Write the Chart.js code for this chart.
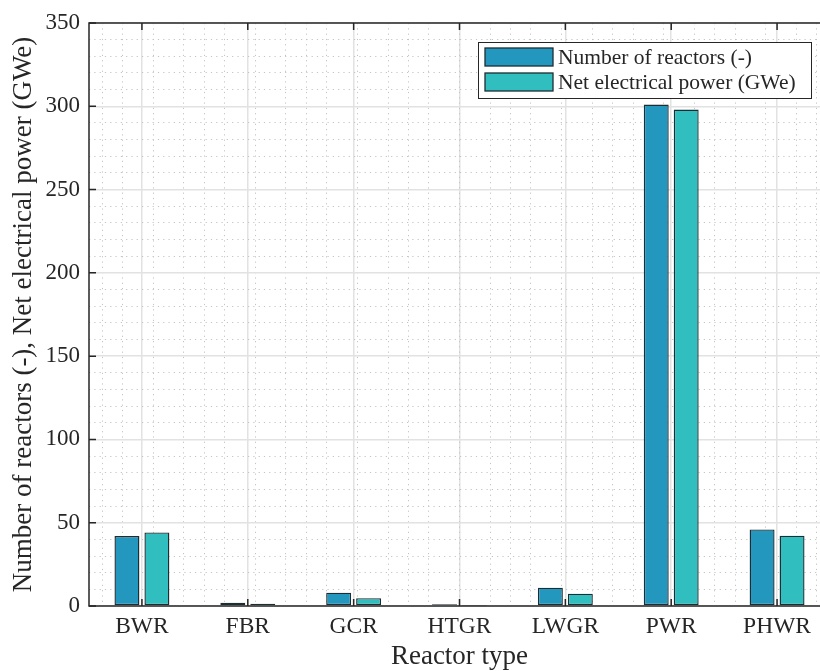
<!DOCTYPE html>
<html>
<head>
<meta charset="utf-8">
<script src="https://cdn.jsdelivr.net/npm/chart.js@4.4.1/dist/chart.umd.min.js"></script>
<style>
  html, body { margin: 0; padding: 0; background: #fff; overflow: hidden; }
</style>
</head>
<body>
<canvas id="chart" width="832" height="671"></canvas>
<script>
// Reactor types and values
const reactorTypes = ["BWR", "FBR", "GCR", "HTGR", "LWGR", "PWR", "PHWR"];
const numberOfReactors = [42, 2, 8, 1, 11, 301, 46];
const netPowerGWe = [44.2, 1.4, 4.7, 0.2, 7.4, 298, 42.2];
const seriesLabels = ["Number of reactors (-)", "Net electrical power (GWe)"];
const yMax = 350;

const FONT = "'Liberation Serif', 'Times New Roman', serif";
const TEXT = "#262626";

// box, inward ticks and boxed legend (MATLAB look)
const axesBox = {
  id: "axesBox",
  afterDraw(chart) {
    const { ctx, chartArea: a, scales } = chart;
    ctx.save();
    ctx.strokeStyle = TEXT;
    ctx.lineWidth = 1.5;
    ctx.strokeRect(a.left, a.top, a.right - a.left, a.bottom - a.top);

    ctx.beginPath();
    scales.x.ticks.forEach((t, i) => {
      const px = scales.x.getPixelForTick(i);
      ctx.moveTo(px, a.bottom); ctx.lineTo(px, a.bottom - 7);
      ctx.moveTo(px, a.top); ctx.lineTo(px, a.top + 7);
    });
    scales.y.ticks.forEach((t, i) => {
      const py = scales.y.getPixelForTick(i);
      ctx.moveTo(a.left, py); ctx.lineTo(a.left + 7, py);
      ctx.moveTo(a.right, py); ctx.lineTo(a.right - 7, py);
    });
    ctx.stroke();

    // legend
    const bx = a.right - 352, by = a.top + 19, bw = 333, bh = 56;
    ctx.fillStyle = "#fff";
    ctx.fillRect(bx, by, bw, bh);
    ctx.lineWidth = 1;
    ctx.strokeStyle = TEXT;
    ctx.strokeRect(bx + 0.5, by + 0.5, bw, bh);
    ctx.font = "21.5px " + FONT;
    ctx.textBaseline = "middle";
    ctx.textAlign = "left";
    chart.data.datasets.forEach((ds, i) => {
      const ry = by + 6 + i * 25;
      ctx.fillStyle = ds.backgroundColor;
      ctx.fillRect(bx + 7, ry, 68, 18);
      ctx.lineWidth = 1.3;
      ctx.strokeStyle = ds.borderColor;
      ctx.strokeRect(bx + 7, ry, 68, 18);
      ctx.fillStyle = TEXT;
      ctx.fillText(ds.label, bx + 80, ry + 10);
    });
    ctx.restore();
  }
};

const config = {
  type: "bar",
  data: {
    labels: reactorTypes,
    datasets: [
      {
        label: seriesLabels[0],
        data: numberOfReactors,
        backgroundColor: "#2497bf",
        borderColor: "#1e2d33",
        borderWidth: 1.4,
        borderSkipped: false,
        categoryPercentage: 0.566,
        barPercentage: 0.833,
      },
      {
        label: seriesLabels[1],
        data: netPowerGWe,
        backgroundColor: "#31bebe",
        borderColor: "#1e2d33",
        borderWidth: 1.4,
        borderSkipped: false,
        categoryPercentage: 0.566,
        barPercentage: 0.833,
      },
    ],
  },
  options: {
    responsive: false,
    animation: false,
    devicePixelRatio: 1,
    layout: { padding: { top: 23, right: 2, left: 0, bottom: 0 } },
    plugins: {
      legend: { display: false },
      tooltip: { enabled: false },
    },
    scales: {
      x: {
        type: "category",
        offset: true,
        grid: { color: "#e2e2e2", lineWidth: 1.5, drawTicks: false, offset: false },
        border: { display: false },
        ticks: { font: { family: FONT, size: 23.5 }, color: TEXT, padding: 7 },
        title: {
          display: true,
          text: "Reactor type",
          color: TEXT,
          font: { family: FONT, size: 27, lineHeight: 1 },
          padding: { top: 0, bottom: 1 },
        },
        afterFit(s) { s.height = 65; },
      },
      // dotted minor grid along x
      x2: {
        type: "linear",
        position: "bottom",
        min: -0.5,
        max: 6.5,
        z: -1,
        grid: { color: "#c4c4c4", lineWidth: 1, drawTicks: false },
        border: { display: false, dash: [1.2, 4.1] },
        ticks: { display: false },
        afterBuildTicks(s) {
          const t = [];
          for (let k = -2; k <= 32; k++) if (k % 5) t.push({ value: k / 5 });
          s.ticks = t;
        },
        afterFit(s) { s.height = 0; },
      },
      y: {
        type: "linear",
        min: 0,
        max: yMax,
        grid: { color: "#e2e2e2", lineWidth: 1.5, drawTicks: false },
        border: { display: false },
        ticks: { stepSize: 50, font: { family: FONT, size: 23 }, color: TEXT, padding: 9 },
        title: {
          display: true,
          text: "Number of reactors (-), Net electrical power (GWe)",
          color: TEXT,
          font: { family: FONT, size: 27, lineHeight: 1 },
          padding: { top: 10.5, bottom: 0 },
        },
        afterFit(s) { s.width = 89; },
      },
      // dotted minor grid along y
      y2: {
        type: "linear",
        position: "left",
        min: 0,
        max: yMax,
        z: -1,
        grid: { color: "#c4c4c4", lineWidth: 1, drawTicks: false },
        border: { display: false, dash: [1.2, 4.1] },
        ticks: { display: false },
        afterBuildTicks(s) {
          const t = [];
          for (let v = 10; v < yMax; v += 10) if (v % 50) t.push({ value: v });
          s.ticks = t;
        },
        afterFit(s) { s.width = 0; },
      },
    },
  },
  plugins: [axesBox],
};

const myChart = new Chart(document.getElementById("chart"), config);
</script>
</body>
</html>
